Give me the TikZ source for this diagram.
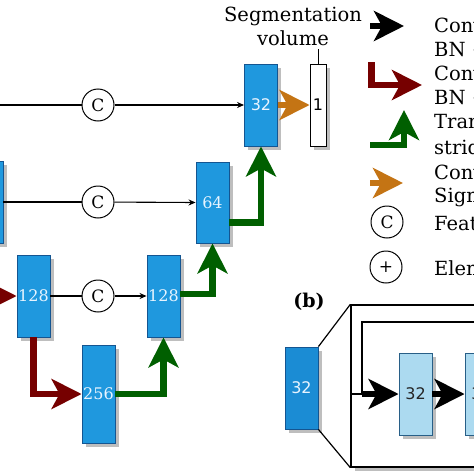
\documentclass[tikz,border=0pt]{standalone}
\usepackage{fontspec}
\setmainfont{DejaVu Serif}
\newfontfamily\numsans{DejaVu Sans}
\usetikzlibrary{arrows.meta,shadows,calc}
\definecolor{boxblue}{RGB}{31,152,222}
\definecolor{boxblueb}{RGB}{27,140,212}
\definecolor{boxborder}{RGB}{20,85,145}
\definecolor{lightbox}{RGB}{172,218,240}
\definecolor{lightborder}{RGB}{40,95,135}
\definecolor{boxtext}{RGB}{232,244,255}
\definecolor{redarr}{RGB}{118,0,0}
\definecolor{greenarr}{RGB}{0,95,0}
\definecolor{orangearr}{RGB}{196,116,20}
\definecolor{shadowgray}{RGB}{190,190,190}
\tikzset{
  shad/.style={drop shadow={shadow xshift=3.5pt,shadow yshift=-3.5pt,fill=shadowgray,opacity=1}},
  fmap/.style={rectangle,draw=boxborder,line width=0.9pt,fill=boxblue,text=boxtext,
    minimum width=33pt,minimum height=82pt,inner sep=0pt,shad,
    font=\fontsize{16}{18}\selectfont},
  lmap/.style={fmap,fill=lightbox,draw=lightborder,text=black!85},
  catc/.style={circle,draw,line width=1pt,fill=white,minimum size=32pt,inner sep=0pt,
    font=\fontsize{17}{19}\selectfont},
  thin/.style={line width=1.1pt,-{Stealth[length=7pt,width=6pt]}},
  plain/.style={line width=1.1pt},
  fat/.style={line width=6.5pt,-{Stealth[length=30pt,width=30pt,inset=8pt]}},
  redf/.style={fat,draw=redarr},
  greenf/.style={fat,draw=greenarr},
  orangef/.style={fat,draw=orangearr},
  blackf/.style={fat,draw=black},
  legtext/.style={anchor=west,inner sep=0pt,font=\fontsize{19.5}{22}\selectfont},
}
\begin{document}
\begin{tikzpicture}[x=1pt,y=-1pt]
\useasboundingbox (0,0) rectangle (474,474);
\clip (0,0) rectangle (474,474);
% feature maps
\node[fmap] (lf) at (-13.5,202.5) {};
\node[fmap,font=\numsans\fontsize{16}{18}\selectfont] (b32) at (261,105) {32};
\node[fmap,fill=white,text=black,draw=black,minimum width=16pt,font=\numsans\fontsize{16}{18}\selectfont] (seg) at (318,105) {1};
\node[fmap,minimum height=81pt] (b64) at (212.5,202.5) {64};
\node[fmap] (b128a) at (33.5,296) {128};
\node[fmap] (b128b) at (163.5,296) {128};
\node[fmap,minimum height=98pt] (b256) at (98.5,394) {256};
% concatenation circles
\node[catc] (c1) at (98,105) {C};
\node[catc] (c2) at (98,202) {C};
\node[catc] (c3) at (98,296) {C};
\coordinate (lin1) at (-10,105);
\coordinate (lin3) at (-40,296);
% thin skip connections
\draw[plain] (lin1) -- (c1);
\draw[thin] (c1) -- (b32.west);
\draw[plain] (lf.east |- c2) -- (c2);
\draw[thin] (c2) -- (b64.west);
\draw[plain] (b128a.east) -- (c3);
\draw[thin] (c3) -- (b128b.west);
% thick arrows
\draw[redf] (lin3) -- (b128a.west);
\draw[redf] (b128a.south) |- (b256.west);
\draw[greenf] (b256.east) -| (b128b.south);
\draw[greenf] ([yshift=2pt]b128b.east) -| (b64.south);
\draw[greenf] ([yshift=-20pt]b64.east) -| (b32.south);
\draw[orangef] (b32.east) -- (seg.west);
% segmentation label
\node[font=\fontsize{19.5}{24}\selectfont,align=center,inner sep=0pt] (seglab) at (293,26) {Segmentation\\volume};
\draw[line width=1pt] (seg.north) -- (seg.north |- 0,49);
% legend
\coordinate (l1a) at (370,26); \coordinate (l1b) at (404,26);
\draw[blackf] (l1a) -- (l1b);
\coordinate (l2a) at (371.5,62); \coordinate (l2b) at (422,85);
\draw[redf] (l2a) |- (l2b);
\coordinate (l3a) at (370,145); \coordinate (l3b) at (404,110);
\draw[greenf] (l3a) -| (l3b);
\coordinate (l4a) at (370,183); \coordinate (l4b) at (403,183);
\draw[orangef] (l4a) -- (l4b);
\node[catc] (lc) at (387,222) {C};
\node[catc] (lp) at (386,267) {+};
\node[legtext] (t1) at (434,25) {Convolution +};
\node[legtext] (t2) at (434,50) {BN + ReLU};
\node[legtext] (t3) at (434,74) {Convolution, stride 2 +};
\node[legtext] (t4) at (434,98) {BN + ReLU};
\node[legtext] (t5) at (434,123) {Transposed conv.,};
\node[legtext] (t6) at (434,147) {stride 2};
\node[legtext] (t7) at (434,172) {Convolution +};
\node[legtext] (t8) at (434,197) {Sigmoid};
\node[legtext] (t9) at (434,223) {Feature concatenation};
\node[legtext] (t10) at (434,268) {Element-wise sum};
% panel (b)
\node[font=\bfseries\fontsize{19}{22}\selectfont,inner sep=0pt] (blab) at (309,302) {(b)};
\node[fmap,fill=boxblueb,font=\numsans\fontsize{16}{18}\selectfont] (s32) at (301.5,388) {32};
\node[rectangle,draw=black,line width=1.3pt,fill=white,minimum width=150pt,minimum height=162pt,inner sep=0pt,
  drop shadow={shadow xshift=4pt,shadow yshift=-4pt,fill=shadowgray,opacity=1}] (zr) at (426,386) {};
\draw[line width=1.2pt] (s32.north east) -- (zr.north west);
\draw[line width=1.2pt] (s32.south east) -- (zr.south west);
\node[lmap,font=\numsans\fontsize{16}{18}\selectfont] (lb1) at (415.5,394) {32};
\node[lmap,font=\numsans\fontsize{16}{18}\selectfont] (lb2) at (481.5,394) {32};
\coordinate (sk) at (362,394);
\coordinate (skend) at (500,322);
\draw[line width=1.2pt] (zr.west |- sk) -- (sk);
\draw[line width=1.2pt] (sk) |- (skend);
\draw[blackf,line width=5.5pt] (sk) -- (lb1.west);
\draw[blackf,line width=5.5pt] (lb1.east) -- (lb2.west);
\end{tikzpicture}
\end{document}
